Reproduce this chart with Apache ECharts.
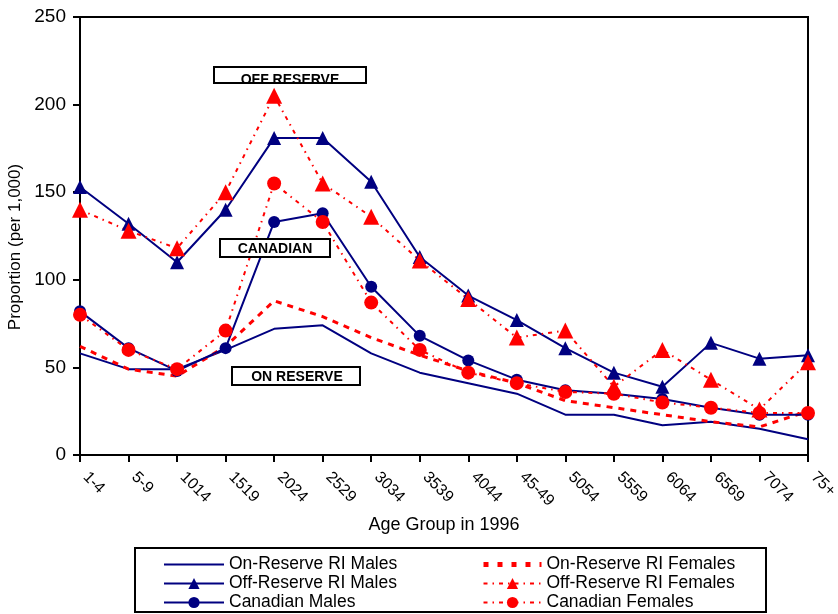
<!DOCTYPE html>
<html>
<head>
<meta charset="utf-8">
<script src="https://cdn.jsdelivr.net/npm/echarts@6/dist/echarts.min.js"></script>
<style>
html,body{margin:0;padding:0;background:#fff;}
#c{width:838px;height:614px;}
</style>
</head>
<body>
<div id="c"></div>
<script>
const categories = ['1-4','5-9','1014','1519','2024','2529','3034','3539','4044','45-49','5054','5559','6064','6569','7074','75+'];
const yTicks = [0, 50, 100, 150, 200, 250];

const onResM  = [58, 49, 49, 60, 72, 74, 58, 47, 41, 35, 23, 23, 17, 19, 15, 9];
const onResF  = [62, 49, 45, 62, 88, 79, 67, 57, 48, 41, 31, 27, 23, 19, 16, 25];
const offResM = [153, 132, 110, 140, 181, 181, 156, 113, 91, 77, 61, 47, 39, 64, 55, 57];
const offResF = [140, 128, 118, 150, 205, 155, 136, 111, 89, 67, 71, 39, 60, 43, 26, 53];
const canM    = [82, 61, 48, 61, 133, 138, 96, 68, 54, 43, 37, 35, 32, 27, 23, 23];
const canF    = [80, 60, 49, 71, 155, 133, 87, 60, 47, 41, 36, 35, 30, 27, 24, 24];

const names = ['On-Reserve RI Males','On-Reserve RI Females','Off-Reserve RI Males','Off-Reserve RI Females','Canadian Males','Canadian Females'];

const NAVY = '#000080', RED = '#ff0000';
const FONT = 'Liberation Sans';
const DOTTED = [4, 5, 1.5, 5];

const chart = echarts.init(document.getElementById('c'), null, {renderer: 'canvas'});

function box(x, y, w, h, label, tx, ty) {
  return [
    {type: 'rect', z: 100, shape: {x: x, y: y, width: w, height: h},
     style: {fill: '#fff', stroke: '#000', lineWidth: 2}},
    {type: 'text', z: 101, style: {text: label, x: tx, y: ty, textAlign: 'center', textVerticalAlign: 'middle',
     font: 'bold 14px "' + FONT + '"', fill: '#000'}}
  ];
}

const legendCommon = {
  orient: 'vertical', padding: 0, itemGap: 0, itemHeight: 14,
  textStyle: {fontFamily: FONT, fontSize: 17.5, color: '#000', lineHeight: 19}
};

chart.setOption({
  animation: false,
  backgroundColor: '#fff',
  textStyle: {fontFamily: FONT},
  grid: {left: 80, top: 17, right: 30, bottom: 159, show: true, borderColor: '#000', borderWidth: 2,
         containLabel: false, outerBoundsMode: 'none'},
  xAxis: {
    type: 'category', data: categories, boundaryGap: false,
    axisLine: {lineStyle: {color: '#000', width: 2}},
    axisTick: {show: true, length: 7, lineStyle: {color: '#000', width: 2}},
    axisLabel: {rotate: -45, fontSize: 16, color: '#000', margin: 14, padding: [0, 0, 0, 8], interval: 0, fontFamily: FONT},
    name: 'Age Group in 1996', nameLocation: 'middle', nameGap: 58,
    nameTextStyle: {fontSize: 18, color: '#000', fontFamily: FONT},
    splitLine: {show: false}
  },
  yAxis: {
    type: 'value', min: yTicks[0], max: yTicks[yTicks.length - 1], interval: 50,
    axisLine: {show: true, lineStyle: {color: '#000', width: 2}},
    axisTick: {show: true, length: 7, lineStyle: {color: '#000', width: 2}},
    axisLabel: {fontSize: 19, color: '#000', margin: 14, fontFamily: FONT},
    splitLine: {show: false},
    name: 'Proportion (per 1,000)', nameLocation: 'middle', nameGap: 49,
    nameTextStyle: {fontSize: 17, color: '#000', fontFamily: FONT, padding: [0, 22, 0, 0]}
  },
  legend: [
    Object.assign({left: 163, top: 555, itemWidth: 60,
      data: [{name: names[0], itemStyle: {opacity: 0}}, names[2], names[4]]}, legendCommon),
    Object.assign({left: 481, top: 555, itemWidth: 58,
      data: [{name: names[1], itemStyle: {opacity: 0}, lineStyle: {width: 5, type: [5, 9]}}, names[3], names[5]]}, legendCommon)
  ],
  graphic: [
    {type: 'rect', z: 50, shape: {x: 135, y: 548, width: 631, height: 64}, style: {fill: 'none', stroke: '#000', lineWidth: 2}}
  ].concat(box(214, 67, 152, 16, 'OFF RESERVE', 290, 80))
   .concat(box(220, 239, 110, 18, 'CANADIAN', 275, 249))
   .concat(box(232, 367, 128, 18, 'ON RESERVE', 297, 377)),
  series: [
    {name: names[0], type: 'line', data: onResM, symbol: 'none', z: 2,
     lineStyle: {color: NAVY, width: 2}, itemStyle: {color: NAVY}},
    {name: names[1], type: 'line', data: onResF, symbol: 'none', z: 2,
     lineStyle: {color: RED, width: 3, type: [6, 6]}, itemStyle: {color: RED}},
    {name: names[2], type: 'line', data: offResM, symbol: 'triangle', symbolSize: 14, z: 3,
     lineStyle: {color: NAVY, width: 2}, itemStyle: {color: NAVY}},
    {name: names[3], type: 'line', data: offResF, symbol: 'triangle', symbolSize: 16, z: 3,
     lineStyle: {color: RED, width: 2, type: DOTTED}, itemStyle: {color: RED}},
    {name: names[4], type: 'line', data: canM, symbol: 'circle', symbolSize: 12, z: 3,
     lineStyle: {color: NAVY, width: 2}, itemStyle: {color: NAVY}},
    {name: names[5], type: 'line', data: canF, symbol: 'circle', symbolSize: 14, z: 3,
     lineStyle: {color: RED, width: 2, type: DOTTED}, itemStyle: {color: RED}}
  ]
});
</script>
</body>
</html>
